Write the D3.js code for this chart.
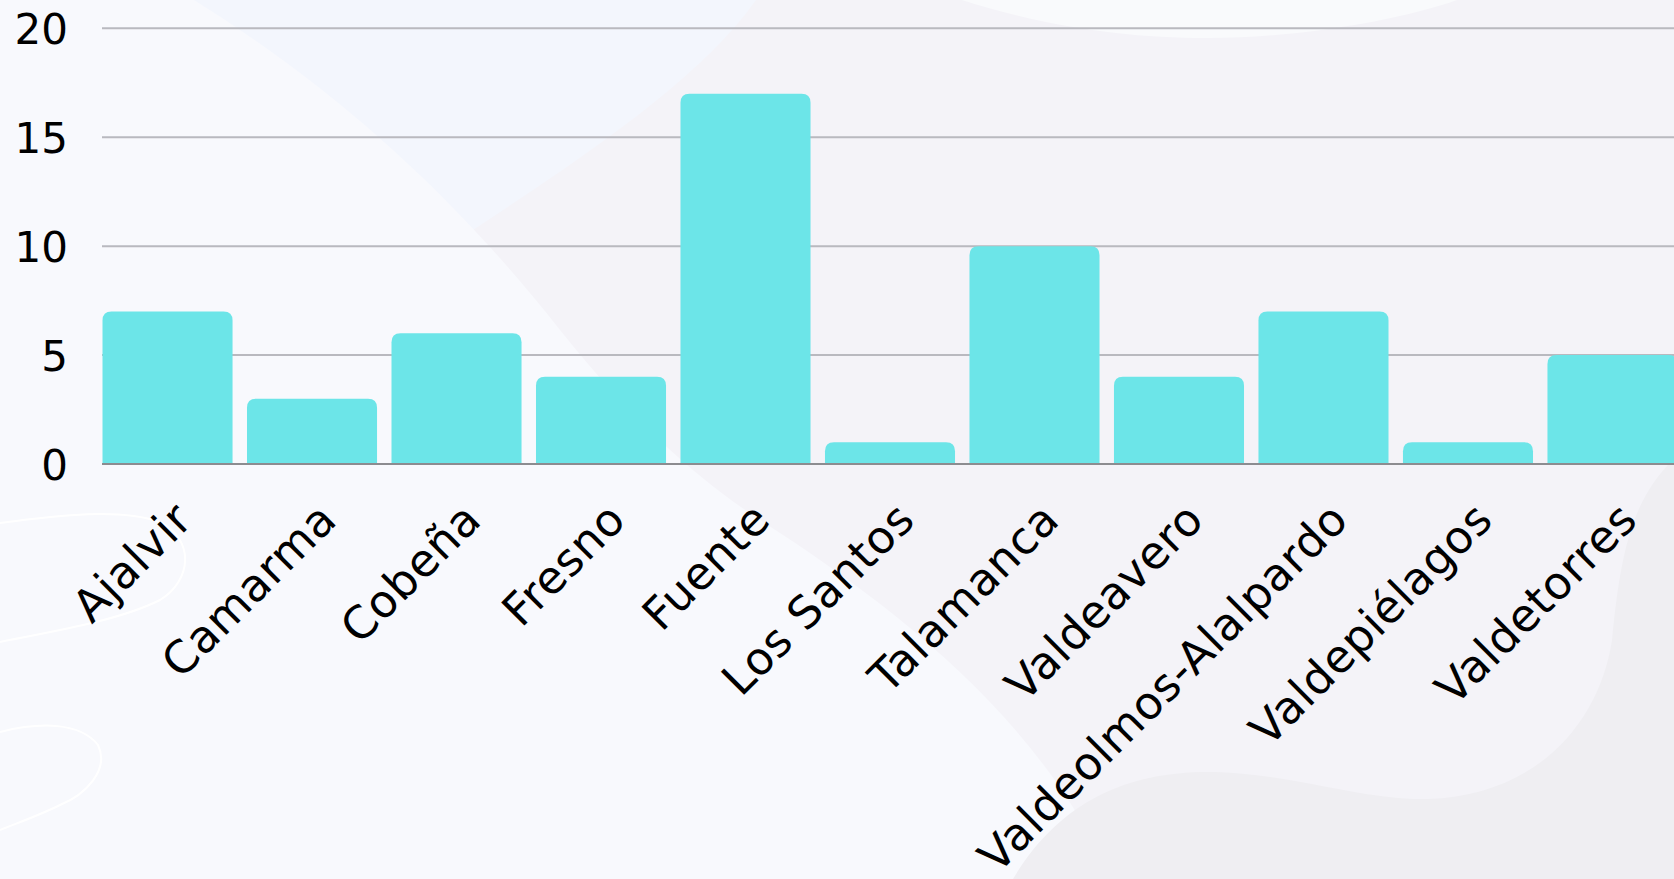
<!DOCTYPE html>
<html>
<head>
<meta charset="utf-8">
<script src="https://cdn.jsdelivr.net/npm/d3@7"></script>
<style>
  html, body { margin: 0; padding: 0; overflow: hidden; background: #f8f9fd; }
  svg { display: block; }
</style>
</head>
<body>
<svg id="chart" width="1674" height="879"></svg>
<script>
// ---- data ----
const categories = ["Ajalvir", "Camarma", "Cobeña", "Fresno", "Fuente", "Los Santos",
  "Talamanca", "Valdeavero", "Valdeolmos-Alalpardo", "Valdepiélagos", "Valdetorres"];
const values = [7, 3, 6, 4, 17, 1, 10, 4, 7, 1, 5];
const yTicks = [0, 5, 10, 15, 20];

// ---- layout ----
const W = 1674, H = 879;
const svg = d3.select("#chart");
const FONT = "'DejaVu Sans', sans-serif";

// background decoration
const bg = svg.append("g");
bg.append("rect").attr("width", W).attr("height", H).attr("fill", "#f4f3f8");
bg.append("path")
  .attr("d", "M150,0 L756,0 C700,80 580,160 450,245 L150,245 Z")
  .attr("fill", "#f3f6fd");
bg.append("path")
  .attr("d", "M0,0 L194,0 C330,85 450,190 560,330 C640,430 700,480 760,520 C900,610 1040,720 1112,879 L0,879 Z")
  .attr("fill", "#f8f9fd");
bg.append("path")
  .attr("d", "M962,0 C1050,28 1130,38 1207,38 C1300,38 1400,20 1457,0 Z")
  .attr("fill", "#f9fafc");
bg.append("path")
  .attr("d", "M1013,879 C1060,800 1130,770 1216,772 C1300,775 1360,800 1428,799 C1540,795 1600,720 1612,640 C1620,560 1630,500 1674,459 L1674,879 Z")
  .attr("fill", "#efeef2");
bg.append("path")
  .attr("d", "M0,523 C60,515 120,508 160,522 C195,540 192,580 160,600 C120,620 60,630 0,642")
  .attr("fill", "none").attr("stroke", "#ffffff").attr("stroke-width", 2);
bg.append("path")
  .attr("d", "M0,732 C40,722 80,722 98,745 C110,770 85,795 60,805 C40,815 20,822 0,830")
  .attr("fill", "none").attr("stroke", "#ffffff").attr("stroke-width", 2);

const x = d3.scaleBand().domain(categories).range([102.5, 1677.5]).paddingInner(0.1).paddingOuter(0);
const y = d3.scaleLinear().domain([0, 20]).range([464, 28.3]);

// gridlines
const grid = svg.append("g");
grid.selectAll("line").data(yTicks.filter(t => t !== 0)).join("line")
  .attr("x1", 102).attr("x2", W)
  .attr("y1", d => y(d)).attr("y2", d => y(d))
  .attr("stroke", "#b9b9bf").attr("stroke-width", 2);

// y axis labels
const yAxis = d3.axisLeft(y).tickValues(yTicks).tickSize(0).tickPadding(0);
const yg = svg.append("g").attr("transform", "translate(68,0)").call(yAxis);
yg.select(".domain").remove();
yg.selectAll("text").attr("font-family", FONT).attr("font-size", 42).attr("fill", "#000").attr("dy", "0.36em");

// bars
function topRounded(x0, y0, w, h, r) {
  r = Math.min(r, h, w / 2);
  return `M${x0},${y0 + h} L${x0},${y0 + r} Q${x0},${y0} ${x0 + r},${y0} L${x0 + w - r},${y0} Q${x0 + w},${y0} ${x0 + w},${y0 + r} L${x0 + w},${y0 + h} Z`;
}
svg.append("g").selectAll("path").data(categories).join("path")
  .attr("d", (c, i) => topRounded(x(c), y(values[i]), x.bandwidth(), y(0) - y(values[i]), 9))
  .attr("fill", "#6ce5e8");

// baseline
svg.append("line").attr("x1", 102).attr("x2", W).attr("y1", y(0)).attr("y2", y(0))
  .attr("stroke", "#8c8c90").attr("stroke-width", 2);

// x labels
const xAxis = d3.axisBottom(x).tickSize(0).tickPadding(0);
const xg = svg.append("g").attr("transform", `translate(0,${y(0)})`).call(xAxis);
xg.select(".domain").remove();
xg.selectAll("text")
  .attr("font-family", FONT).attr("font-size", 45).attr("fill", "#000")
  .attr("letter-spacing", "0.6px")
  .attr("text-anchor", "end")
  .attr("dy", 0).attr("y", 0)
  .attr("transform", "translate(27,58) rotate(-45)");
</script>
</body>
</html>
